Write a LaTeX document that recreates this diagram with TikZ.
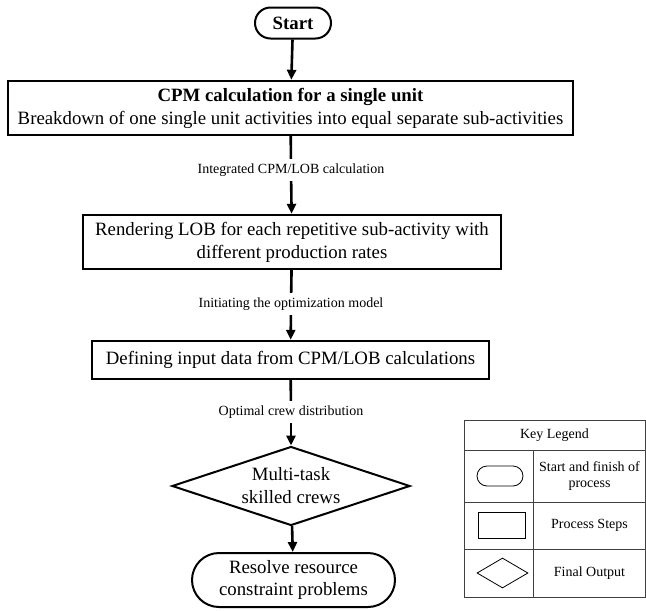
\documentclass[tikz,border=0pt]{standalone}
\usepackage{fontspec}
\setmainfont{Liberation Serif}
\usetikzlibrary{arrows.meta,shapes.geometric,shapes.misc}

\tikzset{
  termbox/.style={draw, line width=2pt, rounded rectangle, inner sep=2pt, align=center, font=\fontsize{18.8}{22}\selectfont},
  procbox/.style={draw, line width=2.4pt, rectangle, inner sep=2pt, align=center, font=\fontsize{18.8}{23}\selectfont},
  outbox/.style={draw, line width=2pt, diamond, aspect=3, inner sep=0pt, align=center, font=\fontsize{18.8}{23}\selectfont},
  steplabel/.style={inner sep=2pt, minimum height=22pt, font=\fontsize{14}{16}\selectfont},
  flowline/.style={line width=2.6pt},
  flowarrow/.style={line width=2.6pt, -{Triangle[width=9pt,length=10pt]}},
  legendline/.style={line width=0.8pt, draw=black!75},
  legendtext/.style={align=center, font=\fontsize{14}{16}\selectfont},
}

\begin{document}
\begin{tikzpicture}[x=1pt,y=-1pt]
    \useasboundingbox (0,0) rectangle (646,611);
    %FLOW NODES
    \node[termbox, minimum width=80pt, minimum height=31pt] (start) at (293,23) {\textbf{Start}};
    \node[procbox, minimum width=565pt, minimum height=54pt] (cpm) at (290.5,108) {\textbf{CPM calculation for a single unit}\\Breakdown of one single unit activities into equal separate sub-activities};
    \node[steplabel] (labcpm) at (291,170) {Integrated CPM/LOB calculation};
    \node[procbox, minimum width=418pt, minimum height=54pt] (lob) at (292,242) {Rendering LOB for each repetitive sub-activity with\\different production rates};
    \node[steplabel] (labopt) at (291,304) {Initiating the optimization model};
    \node[procbox, minimum width=397pt, minimum height=38pt] (input) at (290.5,360) {Defining input data from CPM/LOB calculations};
    \node[steplabel] (labcrew) at (291,412) {Optimal crew distribution};
    \node[outbox, minimum width=238pt, minimum height=79pt] (crews) at (291,486) {Multi-task\\skilled crews};
    \node[termbox, minimum width=207pt, minimum height=54pt] (resolve) at (293.5,580) {Resolve resource\\constraint problems};
    %ARROWS
    \draw[flowarrow] (start) -- (cpm);
    \draw[flowline] (cpm) -- (labcpm);
    \draw[flowarrow] (labcpm) -- (lob);
    \draw[flowline] (lob) -- (labopt);
    \draw[flowarrow] (labopt) -- (input);
    \draw[flowline] (input) -- (labcrew);
    \draw[flowarrow] (labcrew) -- (crews);
    \draw[flowarrow] (crews) -- (resolve);
    %KEY LEGEND TABLE
    \draw[legendline] (464,420) rectangle (645,597);
    \draw[legendline] (464,450) -- (645,450);
    \draw[legendline] (464,502) -- (645,502);
    \draw[legendline] (464,549) -- (645,549);
    \draw[legendline] (533,450) -- (533,597);
    \node[legendtext] (keytitle) at (554.5,435) {Key Legend};
    \node[draw, line width=0.8pt, rounded rectangle, minimum width=46pt, minimum height=20pt, inner sep=0pt] (keyterm) at (500,476) {};
    \node[legendtext] (keytermtext) at (589.5,476) {Start and finish of\\process};
    \node[draw, line width=0.8pt, rectangle, minimum width=47pt, minimum height=26pt, inner sep=0pt] (keyproc) at (501.5,525) {};
    \node[legendtext] (keyproctext) at (589.5,525) {Process Steps};
    \node[draw, line width=0.8pt, diamond, aspect=1.7, minimum width=51pt, minimum height=30pt, inner sep=0pt] (keyout) at (502.5,573) {};
    \node[legendtext] (keyouttext) at (589.5,573) {Final Output};
\end{tikzpicture}
\end{document}
